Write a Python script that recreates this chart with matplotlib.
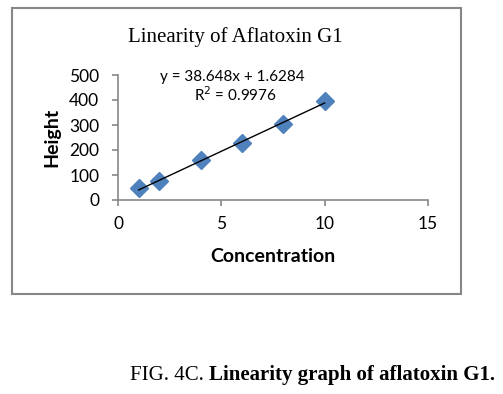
import matplotlib
matplotlib.use('Agg')
import matplotlib.pyplot as plt
import numpy as np
from matplotlib.patches import Rectangle

# Data
conc = [1, 2, 4, 6, 8, 10]
height = [47, 76, 161, 229, 304, 398]
slope, intercept = 38.648, 1.6284
r2 = 0.9976
xticks = [0, 5, 10, 15]
yticks = [0, 100, 200, 300, 400, 500]

W, H = 503, 394
fig = plt.figure(figsize=(W / 100, H / 100), dpi=100)
fig.patch.set_facecolor('white')

def fx(px):
    return px / W

def fy(py):
    return 1 - py / H

# Outer chart border
fig.patches.append(Rectangle((fx(12), fy(294)), fx(461) - fx(12), fy(8) - fy(294),
                             transform=fig.transFigure, fill=False,
                             edgecolor='#878787', linewidth=1.5))

ax = fig.add_axes([fx(118), fy(200), fx(428) - fx(118), fy(75) - fy(200)])
sans = 'Lato'
serif = 'Liberation Serif'

ax.plot(conc, height, linestyle='none', marker='D', markersize=9,
        color='#4F81BD', zorder=2)
xl = np.array([min(conc), max(conc)])
ax.plot(xl, slope * xl + intercept, color='black', linewidth=1.0, zorder=3)

ax.set_xlim(0, 15)
ax.set_ylim(0, 500)
ax.set_xticks(xticks)
ax.set_yticks(yticks)
ax.tick_params(direction='out', length=4.5, width=1.2, color='#878787',
               labelsize=12.5)
ax.tick_params(axis='y', pad=9)
ax.tick_params(axis='x', pad=7)
for lab in ax.get_xticklabels() + ax.get_yticklabels():
    lab.set_family(sans)
for s in ['top', 'right']:
    ax.spines[s].set_visible(False)
for s in ['left', 'bottom']:
    ax.spines[s].set_color('#878787')
    ax.spines[s].set_linewidth(1.2)

fig.text(fx(273), fy(256), 'Concentration', ha='center', va='center',
         fontsize=14, fontweight='bold', family=sans)
fig.text(fx(52), fy(137), 'Height', ha='center', va='center', rotation=90,
         fontsize=14, fontweight='bold', family=sans)

fig.text(fx(235), fy(37), 'Linearity of Aflatoxin G1', ha='center', va='center',
         fontsize=15, family=serif)
fig.text(fx(232), fy(77), 'y = %.3fx + %.4f' % (slope, intercept), ha='center',
         va='center', fontsize=11, family=sans)
fig.text(fx(235), fy(95), 'R$^2$ = %.4f' % r2, ha='center', va='center',
         fontsize=11, family=sans)

# Caption below the chart: plain prefix, bold remainder right after it
cap1 = fig.text(fx(130), fy(375), 'FIG. 4C. ', ha='left', va='center',
                fontsize=15, family=serif)
fig.canvas.draw()
bb = cap1.get_window_extent()
fig.text(bb.x1 / W, fy(375), 'Linearity graph of aflatoxin G1.', ha='left',
         va='center', fontsize=15, fontweight='bold', family=serif)

fig.savefig('out.png', dpi=100)
